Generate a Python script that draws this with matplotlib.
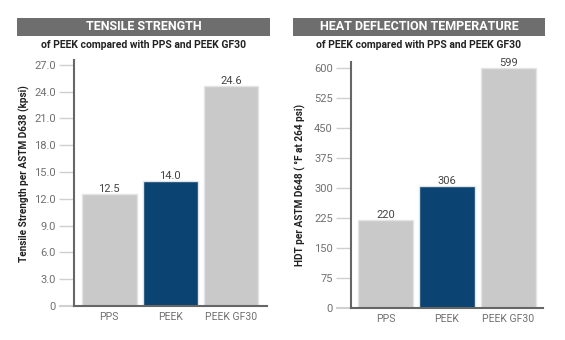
import matplotlib.pyplot as plt
from matplotlib.patches import Rectangle

plt.rcParams['font.family'] = ['Roboto', 'DejaVu Sans']

materials = ['PPS', 'PEEK', 'PEEK GF30']
tensile = [12.5, 14.0, 24.6]
hdt = [220, 306, 599]
tensile_ticks = [0, 3, 6, 9, 12, 15, 18, 21, 24, 27]
tensile_ticklabels = ['0', '3.0', '6.0', '9.0', '12.0', '15.0', '18.0', '21.0', '24.0', '27.0']
hdt_ticks = [0, 75, 150, 225, 300, 375, 450, 525, 600]

GRAY = '#c9c9c9'
NAVY = '#0b4373'
colors = [GRAY, NAVY, GRAY]

fig = plt.figure(figsize=(5.65, 3.4), dpi=100)
fig.patch.set_facecolor('white')


def panel(rect, vals, ticks, ticklabels, ylim, xlim, ylabel, fmt, ylabel_x,
          ylabel_y, title, bar_x0, bar_x1):
    ax = fig.add_axes(rect)
    ax.bar(range(len(vals)), vals, width=0.9, color=colors,
           edgecolor='#e4e4e4', linewidth=1.0)
    for i, v in enumerate(vals):
        ax.text(i, v, fmt.format(v), ha='center', va='bottom',
                fontsize=8, color='#444444')
    ax.set_xlim(*xlim)
    ax.set_ylim(*ylim)
    ax.set_yticks(ticks)
    ax.set_yticklabels(ticklabels)
    ax.set_xticks(range(len(vals)))
    ax.set_xticklabels(materials)
    for s in ('top', 'right'):
        ax.spines[s].set_visible(False)
    for s in ('left', 'bottom'):
        ax.spines[s].set_color('#666666')
        ax.spines[s].set_linewidth(1.5)
    ax.tick_params(axis='y', length=11, width=1.0, color='#d0d0d0',
                   labelsize=8, labelcolor='#707070', pad=2)
    ax.tick_params(axis='x', length=0, labelsize=7.5, labelcolor='#707070', pad=4)
    t0 = ax.yaxis.get_major_ticks()[0]
    t0.tick1line.set_color('#666666')
    t0.tick1line.set_markeredgewidth(1.5)
    fig.text(ylabel_x, 1 - ylabel_y / 340, ylabel, rotation=90,
             ha='center', va='center', fontsize=7.2, fontweight='bold',
             color='#222222')
    # title bar
    fig.patches.append(Rectangle((bar_x0 / 565, 1 - 36 / 340),
                                 (bar_x1 - bar_x0) / 565, 18 / 340,
                                 transform=fig.transFigure,
                                 facecolor='#6e6e6e', edgecolor='none'))
    xc = (bar_x0 + bar_x1) / 2 / 565
    fig.text(xc, 1 - 27 / 340, title, ha='center', va='center',
             fontsize=9, fontweight='bold', color='white')
    fig.text(xc, 1 - 45 / 340, 'of PEEK compared with PPS and PEEK GF30',
             ha='center', va='center', fontsize=7.5, fontweight='bold',
             color='#222222')
    return ax


panel([74 / 565, 1 - 306 / 340, 193 / 565, 246 / 340], tensile,
      tensile_ticks, tensile_ticklabels, (0, 27.55), (-0.58, 2.59),
      'Tensile Strength per ASTM D638 (kpsi)', '{:.1f}', 24 / 565, 174,
      'TENSILE STRENGTH', 17, 270)

panel([351 / 565, 1 - 308 / 340, 192 / 565, 246 / 340], hdt,
      hdt_ticks, [str(t) for t in hdt_ticks], (0, 615), (-0.56, 2.56),
      'HDT per ASTM D648 ( °F at 264 psi)', '{:d}', 300 / 565, 185,
      'HEAT DEFLECTION TEMPERATURE', 293, 545)

fig.savefig('out.png', dpi=100)
